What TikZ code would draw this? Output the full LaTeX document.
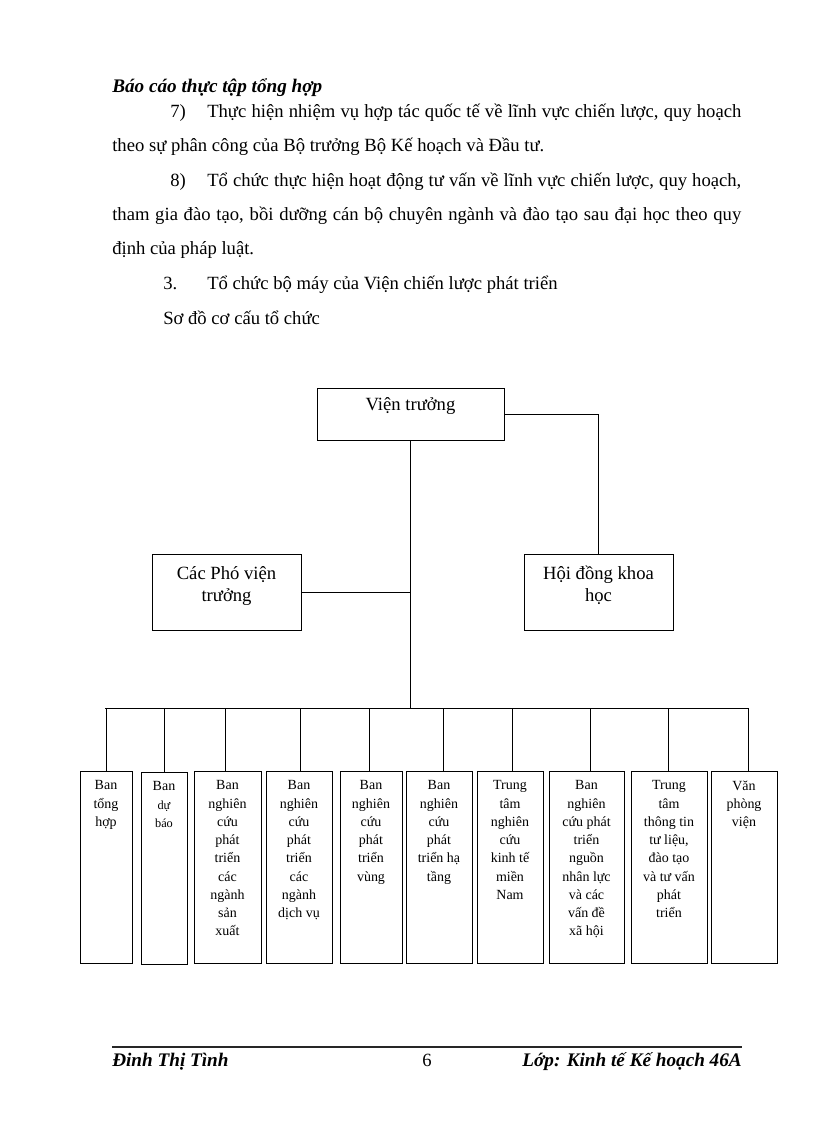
\documentclass[tikz,border=0pt]{standalone}
\usepackage{fontspec}
\setmainfont{Liberation Serif}
\usetikzlibrary{calc}
\newcommand\chartbox[5]{\node[ubox, anchor=north west, minimum width={(#4-#2)*0.7295pt}, minimum height={(#5-#3)*0.7295pt}] (#1) at (#2,#3) {};}
\begin{document}
\begin{tikzpicture}[x=0.7295pt,y=-0.7295pt,
  conn/.style={line width=0.6pt},
  ubox/.style={draw, line width=0.6pt, inner sep=0pt, outer sep=0pt},
  btxt/.style={font=\fontsize{10.2}{13.3}\selectfont, align=center, inner sep=0pt, anchor=north},
  ttxt/.style={font=\fontsize{13.6}{16}\selectfont, align=center, inner sep=0pt},
  body/.style={font=\fontsize{13.6}{16}\selectfont, inner sep=0pt, anchor=base west},
  bodyc/.style={font=\fontsize{13.6}{16}\selectfont, inner sep=0pt, anchor=base},
  bi/.style={font=\fontsize{14}{16}\selectfont\bfseries\itshape, inner sep=0pt}]
\useasboundingbox (0,0) rectangle (816,1123);
\fill[white] (0,0) rectangle (816,1123);

% ---- header and text ----
\node[bi, anchor=base west] (hdr) at (112,92) {Báo cáo thực tập tổng hợp};
\node[body] (n7) at (170,117) {7)};
\node[body] (l1) at (207,117) {\makebox[389.6pt][s]{Thực hiện nhiệm vụ hợp tác quốc tế về lĩnh vực chiến lược, quy hoạch}};
\node[body] (l2) at (112,151) {theo sự phân công của Bộ trưởng Bộ Kế hoạch và Đầu tư.};
\node[body] (n8) at (170,186) {8)};
\node[body] (l3) at (207,186) {\makebox[389.6pt][s]{Tổ chức thực hiện hoạt động tư vấn về lĩnh vực chiến lược, quy hoạch,}};
\node[body] (l4) at (112,220) {\makebox[458.9pt][s]{tham gia đào tạo, bồi dưỡng cán bộ chuyên ngành và đào tạo sau đại học theo quy}};
\node[body] (l5) at (112,254) {định của pháp luật.};
\node[body] (n3) at (163,289) {3.};
\node[body] (l6) at (207,289) {Tổ chức bộ máy của Viện chiến lược phát triển};
\node[body] (l7) at (163,324) {Sơ đồ cơ cấu tổ chức};

% ---- top boxes ----
\chartbox{VT}{317}{388}{504}{440}
\chartbox{CP}{152}{554}{301}{630}
\chartbox{HD}{524}{554}{673}{630}
\node[ttxt] (VTt) at ($(VT.north)+(0,18)$) {Viện trưởng};
\node[ttxt, anchor=north] (CPt) at ($(CP.north)+(0,12)$) {Các Phó viện\\trưởng};
\node[ttxt, anchor=north] (HDt) at ($(HD.north)+(0,12)$) {Hội đồng khoa\\học};

% ---- bottom boxes ----
\chartbox{b1}{80}{771}{132}{963}
\chartbox{b2}{141}{772}{187}{964}
\chartbox{b3}{194}{771}{261}{963}
\chartbox{b4}{266}{771}{332}{963}
\chartbox{b5}{340}{771}{402}{963}
\chartbox{b6}{406}{771}{472}{963}
\chartbox{b7}{477}{771}{543}{963}
\chartbox{b8}{549}{771}{624}{963}
\chartbox{b9}{631}{771}{707}{963}
\chartbox{b10}{711}{771}{777}{963}

\node[btxt] (b1t) at ($(b1.north)+(0,9.5)$) {Ban\\tổng\\hợp};
\node[btxt] (b2t) at ($(b2.north)+(0,9.5)$) {Ban\\{\fontsize{9}{12}\selectfont dự}\\{\fontsize{9}{12}\selectfont báo}};
\node[btxt] (b3t) at ($(b3.north)+(0,9.5)$) {Ban\\nghiên\\cứu\\phát\\triển\\các\\ngành\\sản\\xuất};
\node[btxt] (b4t) at ($(b4.north)+(0,9.5)$) {Ban\\nghiên\\cứu\\phát\\triển\\các\\ngành\\dịch vụ};
\node[btxt] (b5t) at ($(b5.north)+(0,9.5)$) {Ban\\nghiên\\cứu\\phát\\triển\\vùng};
\node[btxt] (b6t) at ($(b6.north)+(0,9.5)$) {Ban\\nghiên\\cứu\\phát\\triển hạ\\tầng};
\node[btxt] (b7t) at ($(b7.north)+(0,9.5)$) {Trung\\tâm\\nghiên\\cứu\\kinh tế\\miền\\Nam};
\node[btxt] (b8t) at ($(b8.north)+(0,9.5)$) {Ban\\nghiên\\cứu phát\\triển\\nguồn\\nhân lực\\và các\\vấn đề\\xã hội};
\node[btxt] (b9t) at ($(b9.north)+(0,9.5)$) {Trung\\tâm\\thông tin\\tư liệu,\\đào tạo\\và tư vấn\\phát\\triển};
\node[btxt] (b10t) at ($(b10.north)+(0,9.5)$) {Văn\\phòng\\viện};

% ---- connectors ----
\coordinate (j) at (410,708);
\coordinate (busL) at (105,708);
\coordinate (busR) at (748,708);
\draw[conn] (VT.south) -- (VT.south |- j);
\draw[conn] (VT.east) -| (HD.north);
\draw[conn] (CP.east) -- (CP.east -| VT.south);
\draw[conn] (busL) -- (busR);
\coordinate (d1) at (106,708);
\coordinate (d2) at (164,708);
\coordinate (d3) at (225,708);
\coordinate (d4) at (300,708);
\coordinate (d5) at (369,708);
\coordinate (d6) at (443,708);
\coordinate (d7) at (512,708);
\coordinate (d8) at (590,708);
\coordinate (d9) at (668,708);
\coordinate (d10) at (748,708);
\foreach \i in {1,...,10} {\draw[conn] (d\i) -- (d\i |- b\i.north);}

% ---- footer ----
\coordinate (fL) at (112,1047);
\coordinate (fR) at (742,1047);
\draw[line width=0.9pt, black!85] (fL) -- (fR);
\node[bi, anchor=base west] (fa) at (112,1066) {Đinh Thị Tình};
\node[bodyc] (fp) at (427,1066) {6};
\node[bi, anchor=base east] (fc) at (742,1066) {Lớp: Kinh tế Kế hoạch 46A};
\end{tikzpicture}
\end{document}
